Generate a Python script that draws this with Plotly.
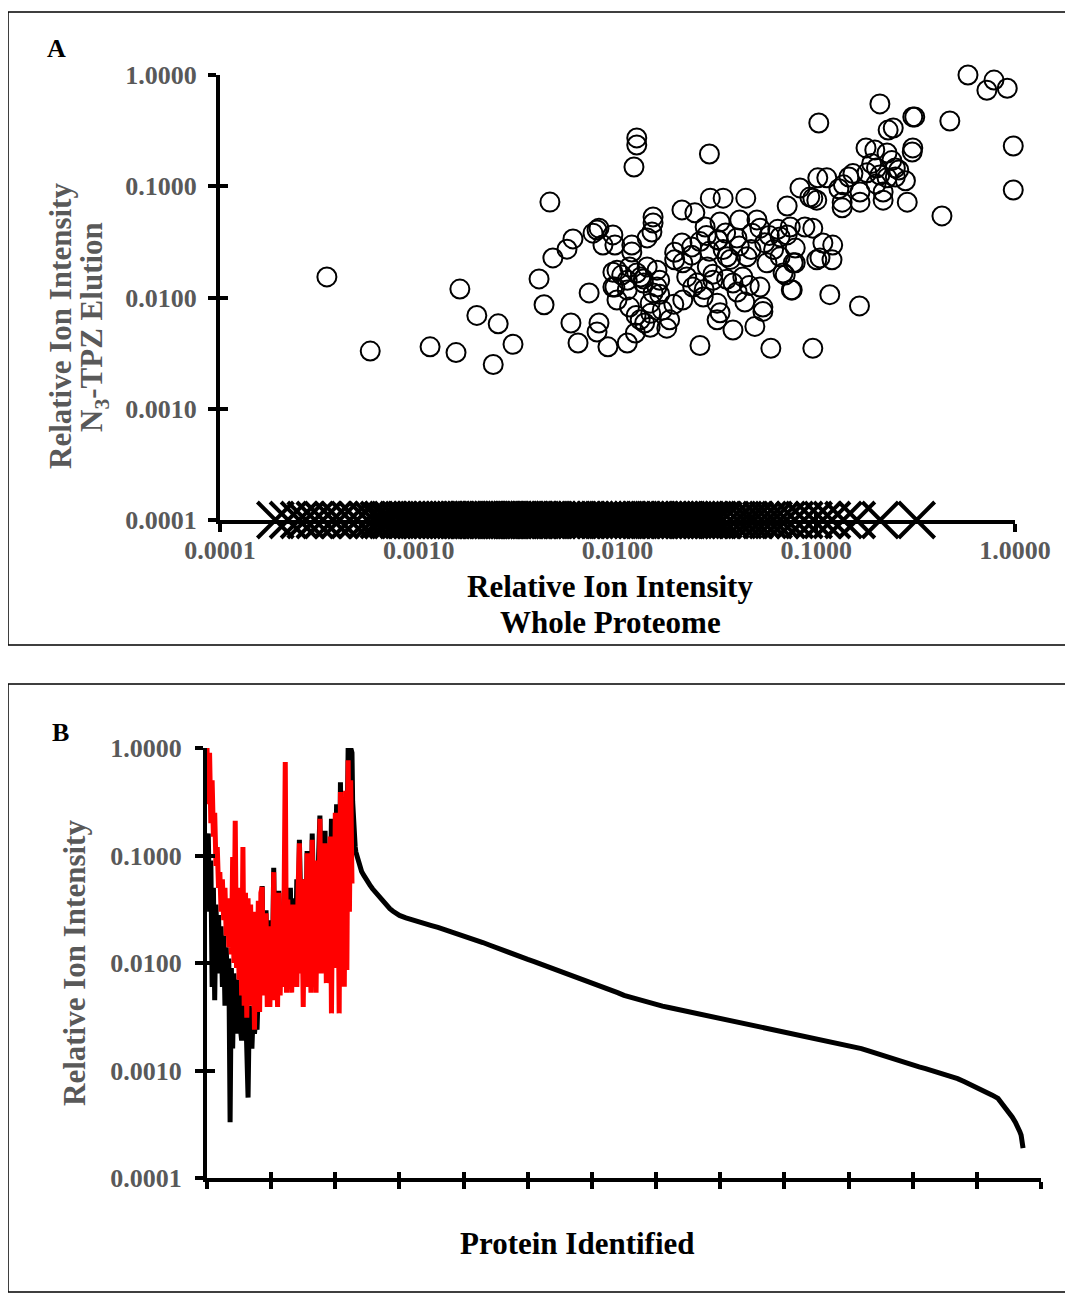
import plotly.graph_objects as go

# ---------------- DATA ----------------
# Panel A: enriched proteins (whole-proteome intensity vs N3-TPZ elution intensity)
enriched_whole = [
    0.000345, 0.00057, 0.00114, 0.00154, 0.00161, 0.00196, 0.00251, 0.00298, 0.00237, 0.00403,
    0.00427, 0.00457, 0.00473, 0.00557, 0.00597, 0.00583, 0.00633, 0.0072, 0.00753, 0.00807,
    0.00845, 0.00948, 0.0097, 0.00807, 0.00789, 0.00895, 0.00948, 0.00948, 0.0125, 0.0125,
    0.0121, 0.029, 0.103, 0.0828, 0.0293, 0.034, 0.0442, 0.0211, 0.0245, 0.0714,
    0.0928, 0.1006, 0.1018, 0.0151, 0.0151, 0.0149, 0.0141, 0.00789, 0.0118, 0.0118,
    0.0276, 0.0328, 0.0412, 0.0503, 0.032, 0.0399, 0.0475, 0.0521, 0.0658, 0.074,
    0.0877, 0.0961, 0.0211, 0.0236, 0.0194, 0.0213, 0.0283, 0.0356, 0.0448, 0.0565,
    0.0658, 0.0766, 0.1006, 0.00994, 0.0115, 0.0141, 0.0158, 0.0163, 0.0097, 0.0112,
    0.0135, 0.0151, 0.00994, 0.0115, 0.0146, 0.0223, 0.0239, 0.0302, 0.0381, 0.0427,
    0.0521, 0.0681, 0.0213, 0.027, 0.0317, 0.0328, 0.0317, 0.0437, 0.0539, 0.0539,
    0.0183, 0.0177, 0.013, 0.0146, 0.0112, 0.0123, 0.0381, 0.0491, 0.0749, 0.026,
    0.0591, 0.0961, 0.58, 0.784, 0.722, 0.914, 0.209, 0.313, 0.306, 0.47,
    0.23, 0.244, 0.306, 0.304, 0.98, 0.98, 0.429, 0.178, 0.197, 0.227,
    0.25, 0.281, 0.287, 0.201, 0.18, 0.209, 0.227, 0.25, 0.217, 0.217,
    0.146, 0.137, 0.113, 0.166, 0.166, 0.135, 0.135, 0.0961, 0.108, 0.121,
    0.1044, 0.12, 0.0714, 0.0784, 0.0784, 0.0698, 0.0757, 0.117, 0.165, 0.032,
    0.0131, 0.0125, 0.0135, 0.0112, 0.0105, 0.0158, 0.0163, 0.0194, 0.0236, 0.029,
    0.034, 0.037, 0.026, 0.028, 0.035, 0.041, 0.047, 0.055, 0.061, 0.058,
    0.064, 0.0252, 0.0273, 0.0302, 0.0354, 0.040, 0.046, 0.0168, 0.0147, 0.0192,
    0.0124, 0.0137, 0.153, 0.19, 0.24, 0.26, 0.2, 0.13,
]
enriched_elution = [
    0.0153, 0.0033, 0.0036, 0.0032, 0.0119, 0.0069, 0.0058, 0.0038, 0.0025, 0.0147,
    0.0086, 0.072, 0.0227, 0.0272, 0.0336, 0.0059, 0.0039, 0.011, 0.0379, 0.042,
    0.0296, 0.0365, 0.0296, 0.0059, 0.0049, 0.0036, 0.0169, 0.0124, 0.272, 0.235,
    0.149, 0.195, 0.37, 0.0966, 0.0782, 0.0782, 0.0782, 0.0613, 0.0577, 0.0664,
    0.0799, 0.075, 0.119, 0.053, 0.0467, 0.0388, 0.0343, 0.0404, 0.0296, 0.0256,
    0.043, 0.0477, 0.0498, 0.0498, 0.0329, 0.0343, 0.0379, 0.042, 0.035, 0.043,
    0.043, 0.042, 0.0309, 0.0284, 0.0218, 0.0205, 0.0188, 0.0232, 0.0232, 0.0205,
    0.0232, 0.0205, 0.0218, 0.0176, 0.0188, 0.0188, 0.0176, 0.0143, 0.0124, 0.0117,
    0.0135, 0.011, 0.0095, 0.0082, 0.0089, 0.0153, 0.0124, 0.0143, 0.0135, 0.0153,
    0.0124, 0.0166, 0.0095, 0.0101, 0.0089, 0.0073, 0.0063, 0.0091, 0.0082, 0.0075,
    0.0063, 0.0053, 0.0063, 0.0054, 0.0039, 0.0048, 0.0051, 0.0055, 0.0117, 0.0037,
    0.0035, 0.0035, 1.0, 0.90, 0.73, 0.76, 0.55, 0.42, 0.42, 0.386,
    0.32, 0.334, 0.221, 0.203, 0.23, 0.0925, 0.0541, 0.221, 0.212, 0.199,
    0.146, 0.112, 0.0719, 0.146, 0.132, 0.126, 0.119, 0.121, 0.0887, 0.075,
    0.121, 0.103, 0.119, 0.0887, 0.0719, 0.0719, 0.064, 0.0782, 0.0309, 0.0296,
    0.0227, 0.0218, 0.0365, 0.0278, 0.0205, 0.0159, 0.0117, 0.0106, 0.0084, 0.033,
    0.0153, 0.0166, 0.0147, 0.0143, 0.0159, 0.0124, 0.0107, 0.0255, 0.024, 0.026,
    0.027, 0.022, 0.0318, 0.036, 0.038, 0.029, 0.027, 0.031, 0.027, 0.036,
    0.041, 0.0135, 0.0118, 0.0162, 0.0146, 0.0112, 0.0128, 0.0077, 0.0072, 0.0087,
    0.0069, 0.0059, 0.13, 0.16, 0.17, 0.14, 0.105, 0.095,
]

# Proteins not found in the elution: rank in whole proteome and intensity
not_enriched_rank = [
    227, 228, 229, 230, 231, 232, 234, 236, 238, 241, 244, 247, 250, 254, 258, 262, 266, 270,
    275, 280, 285, 290, 295, 300,
    310, 320, 330, 340, 350, 360, 370, 380, 390, 400, 410, 420, 430, 440, 450, 460, 470, 480,
    490, 500, 510, 520, 530, 540, 550, 560, 570, 580, 590, 600, 610, 620, 630, 640, 650, 660,
    670, 680, 690, 700, 710, 720, 730, 740, 750, 760, 770, 780, 790, 800, 810, 820, 830, 840,
    850, 860, 870, 880, 890, 900, 910, 920, 930, 940, 950, 960, 970, 980, 990, 1000, 1010,
    1020, 1030, 1040, 1050, 1060, 1070, 1080, 1090, 1100, 1110, 1120, 1130, 1140, 1150, 1160,
    1170, 1180, 1190, 1200, 1210, 1217, 1224, 1233, 1240, 1244, 1250, 1255, 1260, 1264, 1267,
    1269, 1271, 1272,
]
not_enriched_whole = [
    0.32, 0.21, 0.16, 0.137, 0.12, 0.108, 0.097, 0.087, 0.078, 0.071, 0.066, 0.061, 0.057,
    0.053, 0.049, 0.046, 0.043, 0.040, 0.037, 0.034, 0.0320, 0.0303, 0.0289, 0.0277,
    0.0263, 0.0251, 0.0241, 0.0232, 0.0223, 0.0214, 0.0205, 0.0196, 0.0188, 0.0181, 0.0172,
    0.0163, 0.0155, 0.0147, 0.0139, 0.0132, 0.0125, 0.0119, 0.0113, 0.0108, 0.0103, 0.0098,
    0.0093, 0.0089, 0.0085, 0.0081, 0.0077, 0.0073, 0.0069, 0.0066, 0.0062, 0.0059, 0.0056,
    0.0053, 0.0050, 0.0048, 0.0046, 0.00440, 0.00424, 0.00410, 0.00397, 0.00385, 0.00374,
    0.00364, 0.00355, 0.00345, 0.00336, 0.00327, 0.00319, 0.0031, 0.0030, 0.00292, 0.00283,
    0.00275, 0.00266, 0.00258, 0.00249, 0.00242, 0.00234, 0.00227, 0.00221, 0.00215, 0.00209,
    0.00204, 0.00199, 0.00193, 0.00187, 0.00182, 0.00177, 0.00172, 0.00166, 0.00160, 0.00153,
    0.00146, 0.00140, 0.00134, 0.00128, 0.00122, 0.00117, 0.00112, 0.00108, 0.00104, 0.00100,
    0.00096, 0.00092, 0.00088, 0.00084, 0.00079, 0.00074, 0.00070, 0.00066, 0.00063, 0.00059,
    0.00055, 0.00049, 0.00045, 0.00040, 0.00037, 0.00033, 0.00030, 0.00027, 0.00025, 0.00022,
    0.00019,
]
undetected_level = 0.0001  # plotted at the axis floor in panel A

# Panel B: first 227 ranks = proteins detected in the elution (every 2nd rank read)
enriched_rank = list(range(0, 227, 2))
enriched_whole_trace = [
    0.12, 0.16, 0.03, 0.09, 0.006, 0.05, 0.0045, 0.035, 0.012, 0.028, 0.008, 0.022, 0.006, 0.018,
    0.004, 0.014, 0.005, 0.011, 0.00033, 0.009, 0.0016, 0.008, 0.003, 0.007, 0.0022, 0.006,
    0.0025, 0.0019, 0.005, 0.0022, 0.0045, 0.0018, 0.00056, 0.004, 0.0021, 0.0016, 0.0035,
    0.0022, 0.003, 0.0024, 0.006, 0.009, 0.02, 0.052, 0.008, 0.012, 0.031, 0.007, 0.015,
    0.006, 0.025, 0.01, 0.077, 0.008, 0.02, 0.009, 0.047, 0.012, 0.007, 0.03, 0.01, 0.04,
    0.008, 0.036, 0.012, 0.05, 0.009, 0.04, 0.02, 0.011, 0.06, 0.015, 0.14, 0.02, 0.01,
    0.06, 0.025, 0.012, 0.11, 0.02, 0.05, 0.015, 0.16, 0.03, 0.012, 0.07, 0.02, 0.1, 0.235,
    0.03, 0.015, 0.09, 0.17, 0.025, 0.012, 0.12, 0.04, 0.22, 0.02, 0.1, 0.03, 0.3, 0.05,
    0.015, 0.48, 0.06, 0.2, 0.03, 0.35, 0.09, 1.0, 0.5, 1.0, 0.9,
]
enriched_elution_trace = [
    1.0, 0.3, 0.9, 0.2, 0.5, 0.15, 0.25, 0.08, 0.12, 0.05, 0.07, 0.03, 0.06, 0.025, 0.05,
    0.018, 0.04, 0.014, 0.03, 0.012, 0.097, 0.01, 0.21, 0.009, 0.05, 0.007, 0.035, 0.005,
    0.12, 0.004, 0.045, 0.0031, 0.04, 0.006, 0.035, 0.004, 0.03, 0.0024, 0.025, 0.0045,
    0.038, 0.0035, 0.045, 0.051, 0.005, 0.02, 0.029, 0.0039, 0.015, 0.0039, 0.022, 0.006,
    0.07, 0.0045, 0.018, 0.0039, 0.045, 0.005, 0.02, 0.006, 0.03, 0.74, 0.0053, 0.039,
    0.007, 0.03, 0.0053, 0.035, 0.009, 0.02, 0.006, 0.05, 0.13, 0.008, 0.04, 0.0039, 0.06,
    0.01, 0.105, 0.006, 0.05, 0.0053, 0.14, 0.012, 0.07, 0.0053, 0.09, 0.01, 0.22, 0.008,
    0.06, 0.015, 0.13, 0.0065, 0.08, 0.01, 0.15, 0.0034, 0.07, 0.012, 0.25, 0.009, 0.12,
    0.0034, 0.39, 0.02, 0.15, 0.006, 0.4, 0.0086, 0.77, 0.03, 0.5, 0.055,
]

log_tickvals = [0.0001, 0.001, 0.01, 0.1, 1.0]
log_ticktext = ["0.0001", "0.0010", "0.0100", "0.1000", "1.0000"]
rank_ticks = list(range(0, 1301, 100))

# ---------------- FIGURE ----------------
# The page body has an 8 px margin; size the figure to the visible window
OFF = 8
W, H = 1073 - OFF, 1293 - OFF
def fx(px):
    return (px - OFF) / W
def fy(py):
    return 1 - (py - OFF) / H

SERIF = "Liberation Serif"
GRAY = "#595959"
tickfont = dict(family=SERIF, size=26, color=GRAY, weight="bold")

fig = go.Figure()

fig.add_trace(go.Scatter(
    x=not_enriched_whole, y=[undetected_level] * len(not_enriched_whole),
    mode="markers", xaxis="x", yaxis="y", cliponaxis=False,
    marker=dict(symbol="x-thin", size=36, line=dict(width=4, color="black"), color="black"),
    showlegend=False,
))
fig.add_trace(go.Scatter(
    x=enriched_whole, y=enriched_elution,
    mode="markers", xaxis="x", yaxis="y", cliponaxis=False,
    marker=dict(symbol="circle-open", size=19, line=dict(width=2, color="black"), color="black"),
    showlegend=False,
))

fig.add_trace(go.Scatter(
    x=enriched_rank + not_enriched_rank, y=enriched_whole_trace + not_enriched_whole,
    mode="lines", xaxis="x2", yaxis="y2", cliponaxis=False,
    line=dict(color="black", width=5), showlegend=False,
))
fig.add_trace(go.Scatter(
    x=enriched_rank, y=enriched_elution_trace,
    mode="lines", xaxis="x2", yaxis="y2", cliponaxis=False,
    line=dict(color="#ff0000", width=5), showlegend=False,
))

axA_x = dict(domain=[fx(220), fx(1015)], type="log", range=[-4, 0])
axA_y = dict(domain=[fy(520), fy(75)], type="log", range=[-4, 0])
axB_x = dict(domain=[fx(207), fx(1041)], range=[0, 1300])
axB_y = dict(domain=[fy(1178), fy(748)], type="log", range=[-4, 0])

common = dict(showgrid=False, zeroline=False, tickcolor="black", tickwidth=4, automargin=False)

fig.update_layout(
    width=W, height=H, margin=dict(l=0, r=0, t=0, b=0, autoexpand=False),
    paper_bgcolor="white", plot_bgcolor="rgba(0,0,0,0)",
    xaxis=dict(**axA_x, **common, anchor="y", showline=True, linewidth=4, linecolor="black",
               ticks="outside", ticklen=8, tickvals=log_tickvals, ticktext=log_ticktext,
               tickfont=tickfont, ticklabelstandoff=-4),
    yaxis=dict(**axA_y, **common, anchor="x", showline=True, linewidth=4, linecolor="black",
               ticks="outside", ticklen=8, tickvals=log_tickvals, ticktext=log_ticktext,
               tickfont=tickfont, ticklabelstandoff=6),
    xaxis3=dict(**axA_x, **common, anchor="y", overlaying="x", ticks="inside", ticklen=8,
                tickvals=log_tickvals, showticklabels=False, showline=False),
    yaxis3=dict(**axA_y, **common, anchor="x", overlaying="y", ticks="inside", ticklen=8,
                tickvals=log_tickvals, showticklabels=False, showline=False),
    xaxis2=dict(**axB_x, **common, anchor="y2", showline=True, linewidth=4, linecolor="black",
                ticks="outside", ticklen=7, tickvals=rank_ticks, showticklabels=False),
    yaxis2=dict(**axB_y, **common, anchor="x2", showline=True, linewidth=4, linecolor="black",
                ticks="outside", ticklen=8, tickvals=log_tickvals, ticktext=log_ticktext,
                tickfont=tickfont, ticklabelstandoff=8),
    xaxis4=dict(**axB_x, **common, anchor="y2", overlaying="x2", ticks="inside", ticklen=6,
                tickvals=rank_ticks, showticklabels=False, showline=False),
    yaxis4=dict(**axB_y, **common, anchor="x2", overlaying="y2", ticks="inside", ticklen=8,
                tickvals=log_tickvals, showticklabels=False, showline=False),
)

# empty traces so the overlay axes (inside tick halves) are drawn
fig.add_trace(go.Scatter(x=[], y=[], xaxis="x3", yaxis="y3", showlegend=False, hoverinfo="skip"))
fig.add_trace(go.Scatter(x=[], y=[], xaxis="x4", yaxis="y4", showlegend=False, hoverinfo="skip"))

title_font = dict(family=SERIF, size=31, color="black", weight="bold")
title_gray = dict(family=SERIF, size=31, color=GRAY, weight="bold")
label_font = dict(family=SERIF, size=26, color="black", weight="bold")

def ann(text, px, py, font, angle=0):
    fig.add_annotation(text=text, x=fx(px), y=fy(py), xref="paper", yref="paper",
                       showarrow=False, xanchor="center", yanchor="middle",
                       textangle=angle, font=font)

ann("A", 56, 48, label_font)
ann("B", 60, 732, label_font)
ann("Relative Ion Intensity", 610, 586, title_font)
ann("Whole Proteome", 610, 622, title_font)
ann("Relative Ion Intensity", 60, 326, title_gray, -90)
ann("N<sub>3</sub>-TPZ Elution", 94, 327, title_gray, -90)
ann("Relative Ion Intensity", 74, 963, title_gray, -90)
ann("Protein Identified", 577, 1243, title_font)

# panel frames
for (x0, y0, x1, y1) in [(8, 12, 1072, 645), (8, 684, 1072, 1292)]:
    fig.add_shape(type="rect", xref="paper", yref="paper",
                  x0=fx(x0), y0=fy(y1), x1=fx(x1), y1=fy(y0),
                  line=dict(color="black", width=1.5), fillcolor="rgba(0,0,0,0)", layer="below")

fig.write_html("out.html")
